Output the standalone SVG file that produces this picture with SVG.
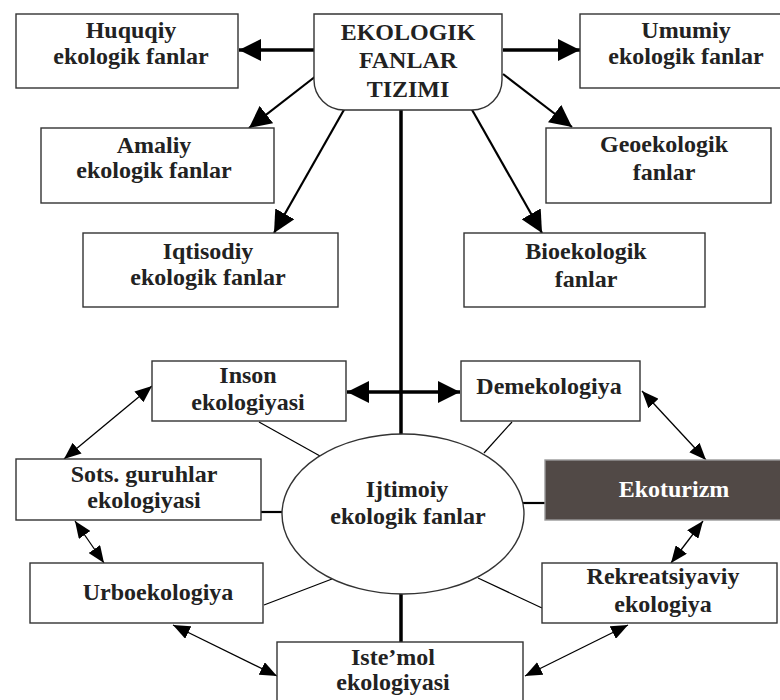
<svg xmlns="http://www.w3.org/2000/svg" width="780" height="700" viewBox="0 0 780 700">
<defs>
<style>
.box{fill:#fff;stroke:#333;stroke-width:1.4}
.dark{fill:#514946;stroke:#999;stroke-width:1.4}
.t{font-family:'Liberation Serif','DejaVu Serif',serif;font-weight:bold;font-size:24px;fill:#222;text-anchor:middle}
.w{fill:#fff}
.thick{stroke:#000;stroke-width:3.5;fill:none}
.med{stroke:#000;stroke-width:2.2;fill:none}
.thin{stroke:#000;stroke-width:1.3;fill:none}
.plain{stroke:#000;stroke-width:1.2;fill:none}
</style>
<marker id="big" markerUnits="userSpaceOnUse" markerWidth="24" markerHeight="22" refX="22" refY="11" orient="auto-start-reverse" viewBox="0 0 24 22">
<path d="M0,0 L22,11 L0,22 Z" fill="#000"/>
</marker>
<marker id="small" markerUnits="userSpaceOnUse" markerWidth="18" markerHeight="14" refX="17" refY="7" orient="auto-start-reverse" viewBox="0 0 18 14">
<path d="M0,0 L17,7 L0,14 Z" fill="#000"/>
</marker>
</defs>

<g id="connectors">
<line class="thick" x1="315" y1="50" x2="239" y2="50" marker-end="url(#big)"/>
<line class="thick" x1="503" y1="50" x2="580" y2="50" marker-end="url(#big)"/>
<line class="med" x1="316" y1="76" x2="249" y2="128" marker-end="url(#big)"/>
<line class="med" x1="345" y1="108" x2="274" y2="233" marker-end="url(#big)"/>
<line class="med" x1="503" y1="74" x2="572" y2="127" marker-end="url(#big)"/>
<line class="med" x1="471" y1="108" x2="542" y2="233" marker-end="url(#big)"/>
<line class="thick" x1="401" y1="110" x2="401" y2="434"/>
<line class="thick" x1="401" y1="594" x2="401" y2="642"/>
<line class="thick" x1="347" y1="392" x2="460" y2="392" marker-start="url(#big)" marker-end="url(#big)"/>
<line class="plain" x1="259" y1="422" x2="320" y2="456"/>
<line class="plain" x1="512" y1="422" x2="484" y2="453"/>
<line class="med" x1="261" y1="512" x2="282" y2="512"/>
<line class="med" x1="523" y1="503" x2="545" y2="503"/>
<line class="plain" x1="264" y1="605" x2="332" y2="579"/>
<line class="plain" x1="542" y1="608" x2="478" y2="578"/>
<line class="thin" x1="152" y1="386" x2="64" y2="459" marker-start="url(#small)" marker-end="url(#small)"/>
<line class="thin" x1="75" y1="521" x2="104" y2="563" marker-start="url(#small)" marker-end="url(#small)"/>
<line class="thin" x1="173" y1="625" x2="277" y2="676" marker-start="url(#small)" marker-end="url(#small)"/>
<line class="thin" x1="525" y1="676" x2="628" y2="625" marker-start="url(#small)" marker-end="url(#small)"/>
<line class="thin" x1="671" y1="563" x2="703" y2="521" marker-start="url(#small)" marker-end="url(#small)"/>
<line class="thin" x1="642" y1="391" x2="706" y2="460" marker-start="url(#small)" marker-end="url(#small)"/>
</g>

<g id="tizimi">
<path class="box" d="M314,14 H502 V80 A30,30 0 0 1 472,110 H344 A30,30 0 0 1 314,80 Z"/>
<text class="t" x="408" y="40">EKOLOGIK</text>
<text class="t" x="408" y="68">FANLAR</text>
<text class="t" x="408" y="97">TIZIMI</text>
</g>

<g id="huquqiy">
<rect class="box" x="16" y="14" width="222" height="74"/>
<text class="t" x="131" y="38">Huquqiy</text>
<text class="t" x="131" y="64">ekologik fanlar</text>
</g>

<g id="umumiy">
<rect class="box" x="580" y="14" width="212" height="74"/>
<text class="t" x="686" y="38">Umumiy</text>
<text class="t" x="686" y="64">ekologik fanlar</text>
</g>

<g id="amaliy">
<rect class="box" x="41" y="128" width="233" height="75"/>
<text class="t" x="154" y="153">Amaliy</text>
<text class="t" x="154" y="178">ekologik fanlar</text>
</g>

<g id="geoekologik">
<rect class="box" x="546" y="128" width="225" height="75"/>
<text class="t" x="664" y="152">Geoekologik</text>
<text class="t" x="664" y="180">fanlar</text>
</g>

<g id="iqtisodiy">
<rect class="box" x="83" y="233" width="255" height="74"/>
<text class="t" x="208" y="259">Iqtisodiy</text>
<text class="t" x="208" y="285">ekologik fanlar</text>
</g>

<g id="bioekologik">
<rect class="box" x="464" y="233" width="241" height="74"/>
<text class="t" x="586" y="259">Bioekologik</text>
<text class="t" x="586" y="287">fanlar</text>
</g>

<g id="inson">
<rect class="box" x="152" y="361" width="194" height="60"/>
<text class="t" x="248" y="383">Inson</text>
<text class="t" x="248" y="410">ekologiyasi</text>
</g>

<g id="demekologiya">
<rect class="box" x="461" y="361" width="179" height="60"/>
<text class="t" x="549" y="394">Demekologiya</text>
</g>

<g id="ijtimoiy">
<ellipse class="box" cx="403" cy="514" rx="121" ry="80"/>
<text class="t" x="407" y="497">Ijtimoiy</text>
<text class="t" x="408" y="524">ekologik fanlar</text>
</g>

<g id="sots">
<rect class="box" x="16" y="459" width="245" height="61"/>
<text class="t" x="144" y="482">Sots. guruhlar</text>
<text class="t" x="144" y="508">ekologiyasi</text>
</g>

<g id="ekoturizm">
<rect class="dark" x="545" y="460" width="250" height="60"/>
<text class="t w" x="674" y="497">Ekoturizm</text>
</g>

<g id="urboekologiya">
<rect class="box" x="30" y="563" width="233" height="60"/>
<text class="t" x="158" y="600">Urboekologiya</text>
</g>

<g id="rekreatsiyaviy">
<rect class="box" x="542" y="563" width="235" height="60"/>
<text class="t" x="663" y="584">Rekreatsiyaviy</text>
<text class="t" x="663" y="612">ekologiya</text>
</g>

<g id="istemol">
<rect class="box" x="277" y="642" width="246" height="62"/>
<text class="t" x="393" y="665">Iste’mol</text>
<text class="t" x="393" y="690">ekologiyasi</text>
</g>
</svg>
